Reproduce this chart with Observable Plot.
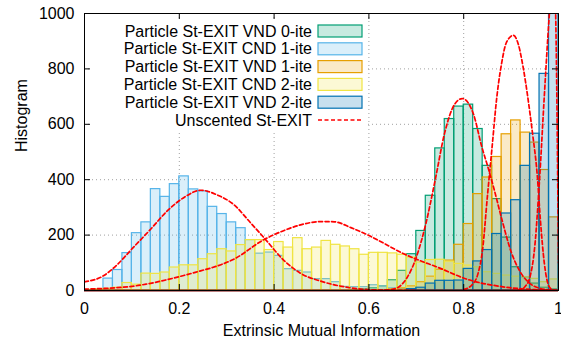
<!DOCTYPE html>
<html>
<head>
<meta charset="utf-8">
<script src="https://cdn.jsdelivr.net/npm/d3@7"></script>
<script src="https://cdn.jsdelivr.net/npm/@observablehq/plot@0.6"></script>
<style>
  body { margin: 0; background: white; }
  #wrap { position: relative; width: 561px; height: 344px; font-family: "Liberation Sans", Arial, sans-serif; }
  #legend { position: absolute; left: 0; top: 0; pointer-events: none; }
</style>
</head>
<body>
<div id="wrap"></div>
<script>
// ---- data ----
const binWidth = 0.02; // 50 bins on [0,1]
const seriesNames = [
  "Particle St-EXIT VND 0-ite",
  "Particle St-EXIT CND 1-ite",
  "Particle St-EXIT VND 1-ite",
  "Particle St-EXIT CND 2-ite",
  "Particle St-EXIT VND 2-ite"
];
const seriesColors = ["#009e73", "#56b4e9", "#e69f00", "#f0e442", "#0072b2"];
const curveName = "Unscented St-EXIT";

const vnd0 = [0,0,0,0,0,0,0,0,0,0, 0,0,0,0,0,0,0,0,0,0, 0,0,0,0,0,0,0,0,2,4,
  8,15,37,71,131,215,342,513,619,664, 671,583,450,330,191,84,48,25,10,4];
const cnd1 = [0,0,43,74,135,207,246,366,338,384, 412,365,358,302,276,246,225,182,133,137,
  125,77,71,65,41,41,30,13,12,12, 19,15,8,5,3,2,1,0,0,0, 0,0,0,0,0,0,0,0,0,0];
const vnd1 = [0,0,0,0,0,0,0,0,0,0, 0,0,0,0,0,0,0,0,0,0, 0,0,0,0,0,0,0,0,0,0,
  0,0,4,8,15,30,50,75,108,165, 240,348,408,482,564,614,570,534,435,264];
const cnd2 = [2,4,6,10,27,21,61,60,65,83, 91,91,113,131,149,141,164,182,182,146,
  175,155,189,149,155,179,165,159,149,129, 136,136,134,129,119,101,110,111,104,96,
  90,84,66,60,54,50,48,42,30,40];
const vnd2 = [0,0,0,0,0,0,0,0,0,0, 0,0,0,0,0,0,0,0,0,0, 0,0,0,0,0,0,0,0,0,0,
  0,0,0,0,5,10,25,35,35,36, 78,105,146,204,278,326,450,566,782,1150];

// Unscented St-EXIT curves
const uCnd1X = [0,0.04,0.07,0.1,0.14,0.175,0.21,0.245,0.28,0.315,0.35,0.38,0.42,0.456,0.5,0.56,0.6,0.65,0.7];
const uCnd1Y = [31,53,95,150,222,288,336,362,345,310,245,188,110,62,33,10,3,1,0];
const uCnd2X = [0,0.1,0.13,0.2,0.245,0.27,0.315,0.378,0.42,0.456,0.5,0.527,0.562,0.597,0.632,0.668,0.703,0.742,0.81,0.88,0.95,1.0];
const uCnd2Y = [5,15,23,50,71,83,113,183,216,237,249,248,227,201,170,137,111,86,39,14,3,0];
const uVnd0X = [0.62,0.64,0.66,0.68,0.70,0.72,0.74,0.76,0.78,0.797,0.82,0.838,0.852,0.865,0.88,0.90,0.92,0.94,0.96,0.98,1.0];
const uVnd0Y = [0,2,10,45,120,240,400,570,670,693,640,520,440,360,260,140,65,25,8,2,0];
const uVnd1X = [0.80,0.82,0.83,0.84,0.85,0.86,0.87,0.88,0.89,0.905,0.915,0.925,0.935,0.945,0.955,0.962,0.97,0.98,0.99];
const uVnd1Y = [3,25,60,150,340,520,700,820,895,921,890,810,700,570,420,250,100,15,0];
const uVnd2X = [0.90,0.92,0.93,0.94,0.95,0.96,0.97,0.98,0.99,0.995,1.0];
const uVnd2Y = [0,3,15,50,160,400,700,980,1200,900,100];

const xTicks = [0, 0.2, 0.4, 0.6, 0.8, 1];
const yTicks = [0, 200, 400, 600, 800, 1000];
const xTickLabels = ["0", "0.2", "0.4", "0.6", "0.8", "1"];
const yTickLabels = ["0", "200", "400", "600", "800", "1000"];
const xTitle = "Extrinsic Mutual Information";
const yTitle = "Histogram";

// ---- build tables ----
const seriesValues = [vnd0, cnd1, vnd1, cnd2, vnd2];
const hist = [];
seriesValues.forEach((vals, s) => {
  vals.forEach((v, i) => {
    if (v > 0) hist.push({s, x1: i * binWidth, x2: (i + 1) * binWidth, y: v});
  });
});
const curves = [];
[[uCnd1X,uCnd1Y],[uCnd2X,uCnd2Y],[uVnd0X,uVnd0Y],[uVnd1X,uVnd1Y],[uVnd2X,uVnd2Y]].forEach(([xs, ys], c) => {
  xs.forEach((x, i) => curves.push({c, x, y: ys[i]}));
});

// ---- layout ----
const W = 561, H = 344, mL = 84, mR = 3, mT = 13, mB = 54;
const fw = W - mL - mR, fh = H - mT - mB, tick = 6;
const innerX = xTicks.slice(1, -1), innerY = yTicks.slice(1, -1);
const grid = {stroke: "#a0a0a0", strokeOpacity: 1, strokeWidth: 1, strokeDasharray: "1,3"};

const marks = [
  Plot.ruleX(innerX, {x: d => d, ...grid}),
  Plot.ruleY(innerY, {y: d => d, ...grid})
];
seriesValues.forEach((_, s) => {
  marks.push(Plot.rectY(hist.filter(d => d.s === s), {
    x1: "x1", x2: "x2", y: "y",
    fill: seriesColors[s], fillOpacity: 0.22,
    stroke: seriesColors[s], strokeWidth: 1.2, clip: true
  }));
});
marks.push(
  Plot.line(curves, {x: "x", y: "y", z: "c", curve: "monotone-x",
    stroke: "#ff0000", strokeWidth: 1.7, strokeDasharray: "4,2.5", clip: true}),
  Plot.ruleY([0], {y: d => d, stroke: "#7a0000", strokeWidth: 2}),
  Plot.frame({stroke: "black", strokeWidth: 1}),
  // inward tick marks on all four sides
  Plot.ruleX(innerX, {x: d => d, insetTop: fh - tick, stroke: "black"}),
  Plot.ruleX(innerX, {x: d => d, insetBottom: fh - tick, stroke: "black"}),
  Plot.ruleY(innerY, {y: d => d, insetRight: fw - tick, stroke: "black"}),
  Plot.ruleY(innerY, {y: d => d, insetLeft: fw - tick, stroke: "black"}),
  Plot.axisX(xTicks, {tickSize: 0, tickPadding: 12, fontSize: 16,
    tickFormat: d => xTickLabels[xTicks.indexOf(d)], label: null}),
  Plot.axisY(yTicks, {tickSize: 0, tickPadding: 10, fontSize: 16,
    tickFormat: d => yTickLabels[yTicks.indexOf(d)], label: null}),
  Plot.text([xTitle], {text: d => d, frameAnchor: "bottom", dy: 45, fontSize: 16}),
  Plot.text([yTitle], {text: d => d, frameAnchor: "left", dx: -63, rotate: -90, fontSize: 16})
);

const chart = Plot.plot({
  width: W, height: H,
  marginLeft: mL, marginRight: mR, marginTop: mT, marginBottom: mB,
  x: {domain: [0, 1]},
  y: {domain: [0, 1000]},
  style: {fontFamily: '"Liberation Sans", Arial, sans-serif', fontSize: "16px", background: "white", color: "black", overflow: "hidden"},
  marks
});
const wrap = document.getElementById("wrap");
wrap.appendChild(chart);

// ---- legend (inside the plot, top-left, opaque box) ----
const leg = d3.select(wrap).append("svg").attr("id", "legend")
  .attr("width", W).attr("height", H);
leg.append("rect").attr("x", 91).attr("y", 20).attr("width", 277).attr("height", 110).attr("fill", "white");
const rowY0 = 31, rowStep = 17.8, textRight = 312, swX = 318, swW = 44, swH = 12;
const entries = seriesNames.map((n, i) => ({name: n, color: seriesColors[i], kind: "box"}))
  .concat([{name: curveName, color: "#ff0000", kind: "line"}]);
entries.forEach((e, i) => {
  const cy = rowY0 + i * rowStep;
  leg.append("text").attr("x", textRight).attr("y", cy).attr("dy", "0.35em")
    .attr("text-anchor", "end").attr("font-size", 16)
    .attr("font-family", '"Liberation Sans", Arial, sans-serif').text(e.name);
  if (e.kind === "box") {
    leg.append("rect").attr("x", swX).attr("y", cy - swH / 2).attr("width", swW).attr("height", swH)
      .attr("fill", e.color).attr("fill-opacity", 0.22).attr("stroke", e.color).attr("stroke-width", 1.2);
  } else {
    leg.append("line").attr("x1", swX).attr("x2", swX + swW).attr("y1", cy).attr("y2", cy)
      .attr("stroke", e.color).attr("stroke-width", 1.7).attr("stroke-dasharray", "4,2.5");
  }
});
</script>
</body>
</html>
